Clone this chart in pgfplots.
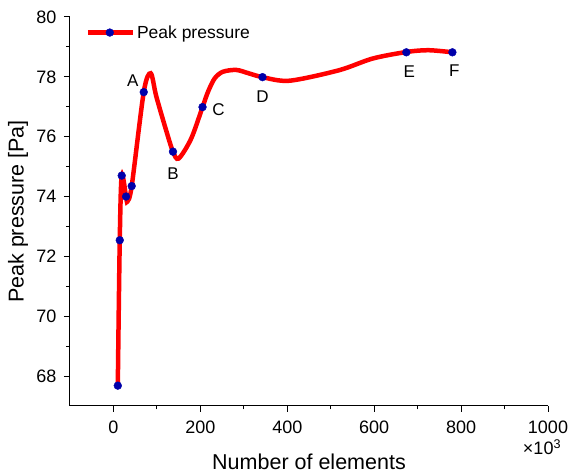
\documentclass[border=0pt]{standalone}
\usepackage{fontspec}
\setmainfont{Liberation Sans}
\usepackage{pgfplots}
\pgfplotsset{compat=1.18}
\definecolor{ptblue}{RGB}{0,0,170}

\begin{document}
\begin{tikzpicture}
\begin{axis}[
  scale only axis, width=478pt, height=389pt,
  xmin=-100, xmax=1000, ymin=67, ymax=80,
  axis x line*=bottom, axis y line*=left,
  axis line style={line width=1pt, -},
  xtick={0,200,...,1000}, ytick={68,70,...,80},
  minor x tick num=1, minor y tick num=1,
  tick align=outside,
  major tick length=6pt, minor tick length=3.5pt,
  every tick/.style={black, line width=1pt},
  tick label style={font=\fontsize{18}{21}\selectfont},
  x tick label style={yshift=-5pt},
  y tick label style={xshift=-4pt},
  /pgf/number format/assume math mode=true,
  /pgf/number format/1000 sep={},
  xlabel={Number of elements}, ylabel={Peak pressure [Pa]},
  every axis x label/.style={at={(axis description cs:0.5,0)}, yshift=-56pt,
    anchor=center, font=\fontsize{21.5}{25}\selectfont},
  every axis y label/.style={at={(axis description cs:0,0.5)}, xshift=-52pt,
    rotate=90, anchor=center, font=\fontsize{21.5}{25}\selectfont},
  legend style={draw=none, fill=none, at={(rel axis cs:0.03,0.96)}, anchor=west,
    font=\fontsize{17.5}{20}\selectfont, inner sep=1pt},
  legend image code/.code={\draw[#1, mark repeat=2, mark phase=2]
    plot coordinates {(0pt,0pt) (22pt,0pt) (45pt,0pt)};},
  clip=false,
]
% spline curve as drawn (incl. overshoots)
\addplot[red, line width=4.5pt, smooth, forget plot] coordinates {
  (10,67.68) (14.5,72.54) (19,74.70) (29,74.00) (32,73.83) (42,74.35)
  (69.7,77.49) (85.7,78.12) (98.5,77.35) (121.5,76.2) (137,75.50) (150,75.27)
  (178.7,75.93) (205,76.99) (217.6,77.5) (233,77.95) (252,78.17) (283,78.23)
  (313,78.11) (343,77.99) (405,77.87) (519,78.22) (596,78.61) (674,78.83)
  (725,78.89) (780,78.82)
  };
% data points
\addplot[only marks, mark=*, mark size=3.9pt, forget plot,
  mark options={ptblue, fill=ptblue, line width=0.4pt}] coordinates {
  (10,67.68) (14.5,72.54) (19,74.70) (29,74.00) (42,74.35)
  (69.7,77.49) (137,75.50) (205,76.99) (343,77.99) (674,78.82) (780,78.82)
  };
\addlegendimage{red, line width=4.5pt, mark=*, mark size=3.9pt,
  mark options={ptblue, fill=ptblue, line width=0.4pt}}
\addlegendentry{Peak pressure}

\begin{scope}[font=\fontsize{17}{20}\selectfont]
\node at (axis cs:69.7,77.49) [xshift=-11pt, yshift=11pt] {A};
\node at (axis cs:137,75.50) [yshift=-22.5pt] {B};
\node at (axis cs:205,76.99) [xshift=16pt, yshift=-3pt] {C};
\node at (axis cs:343,77.99) [yshift=-20pt] {D};
\node at (axis cs:674,78.82) [xshift=3pt, yshift=-19pt] {E};
\node at (axis cs:780,78.82) [xshift=2pt, yshift=-18pt] {F};
\end{scope}
\node at (rel axis cs:1,0) [xshift=-6pt, yshift=-41pt, font=\fontsize{18}{21}\selectfont] {×10\textsuperscript{3}};

\coordinate (bl) at (rel axis cs:0,0);
\coordinate (tr) at (rel axis cs:1,1);
\end{axis}
\pgfresetboundingbox
\path[use as bounding box] ([shift={(-70pt,-67pt)}]bl) rectangle ([shift={(25pt,17pt)}]tr);
\end{tikzpicture}
\end{document}
